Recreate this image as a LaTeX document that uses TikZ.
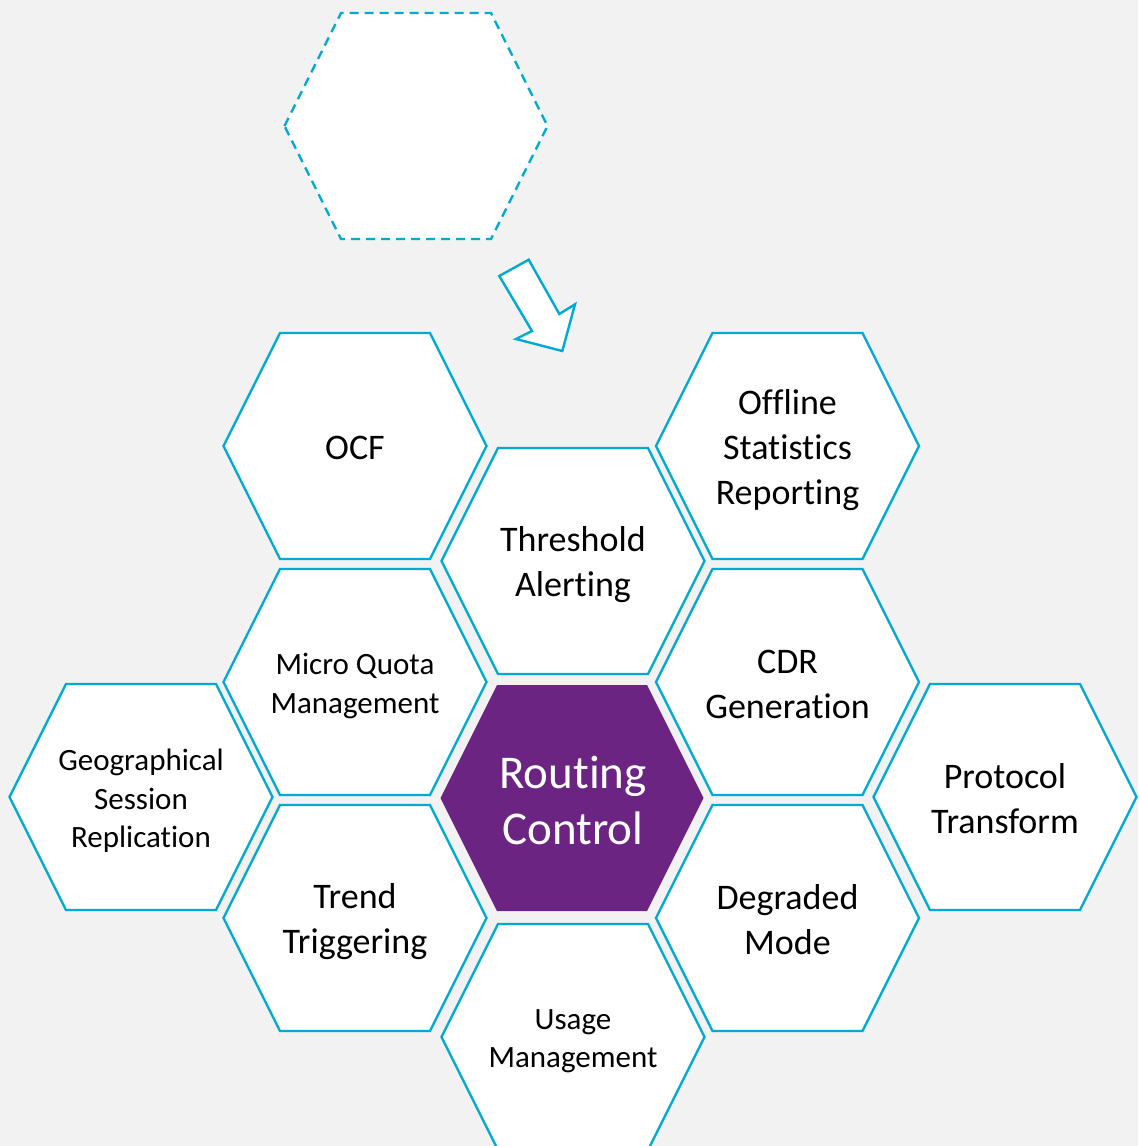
\documentclass[tikz,border=0pt]{standalone}
\usepackage{fontspec}
\setmainfont{Carlito}[Ligatures={NoCommon}]
\definecolor{hexline}{RGB}{0,170,208}
\definecolor{hexpurple}{RGB}{108,36,131}
\definecolor{bggrey}{RGB}{242,242,242}
\tikzset{
  hexcell/.style={draw=hexline, line width=2.4pt, fill=white, line join=miter},
  hexdash/.style={hexcell, dash pattern=on 9pt off 6pt},
  hexcore/.style={fill=hexpurple, draw=none},
  bigtext/.style={font=\fontsize{36}{45}\selectfont, align=center, text=black, inner sep=0pt},
  smalltext/.style={font=\fontsize{31}{38.5}\selectfont, align=center, text=black, inner sep=0pt},
  coretext/.style={font=\fontsize{47}{56}\selectfont, align=center, text=white, inner sep=0pt},
  blockarrow/.style={draw=hexline, line width=2.4pt, fill=white, line join=miter},
}
\newcommand\hexshape[2]{\path[#2, shift={(#1)}] (-131.5,0) -- (-75,-113) -- (75,-113) -- (131.5,0) -- (75,113) -- (-75,113) -- cycle;}
\begin{document}
\begin{tikzpicture}[x=1pt,y=-1pt]
\useasboundingbox (0,0) rectangle (1138,1146);
\clip (0,0) rectangle (1138,1146);
\fill[bggrey] (0,0) rectangle (1138,1146);

% dashed empty cell
\hexshape{416,126}{hexdash}
\coordinate (empty) at (416,126);

% hollow arrow
\draw[blockarrow] (499.3,276) -- (528.7,259.7) -- (559.3,314) -- (575,304.3)
  -- (562.3,351) -- (516,339) -- (532,331) -- cycle;

% hexagon cells
\hexshape{355,446}{hexcell}
\node[bigtext] (ocf) at (355,448) {OCF};

\hexshape{787.5,446}{hexcell}
\node[bigtext] (offline) at (787.5,450) {Offline\\Statistics\\Reporting};

\hexshape{573,561}{hexcell}
\node[bigtext] (threshold) at (573,564.5) {Threshold\\Alerting};

\hexshape{355,682}{hexcell}
\node[smalltext] (microquota) at (355,686) {Micro Quota\\Management};

\hexshape{787.5,682}{hexcell}
\node[bigtext] (cdr) at (787.5,684) {CDR\\Generation};

\hexshape{141,797}{hexcell}
\node[smalltext] (geo) at (141,801) {Geographical\\Session\\Replication};

\hexshape{572,798}{hexcore}
\node[coretext] (routing) at (573,800) {Routing\\Control};

\hexshape{1005,797}{hexcell}
\node[bigtext] (protocol) at (1005,799) {Protocol\\Transform};

\hexshape{355,918}{hexcell}
\node[bigtext] (trend) at (355,922) {Trend\\Triggering};

\hexshape{787.5,918}{hexcell}
\node[bigtext] (degraded) at (787.5,920) {Degraded\\Mode};

\hexshape{573,1037}{hexcell}
\node[smalltext] (usage) at (573,1041) {Usage\\Management};
\end{tikzpicture}
\end{document}
